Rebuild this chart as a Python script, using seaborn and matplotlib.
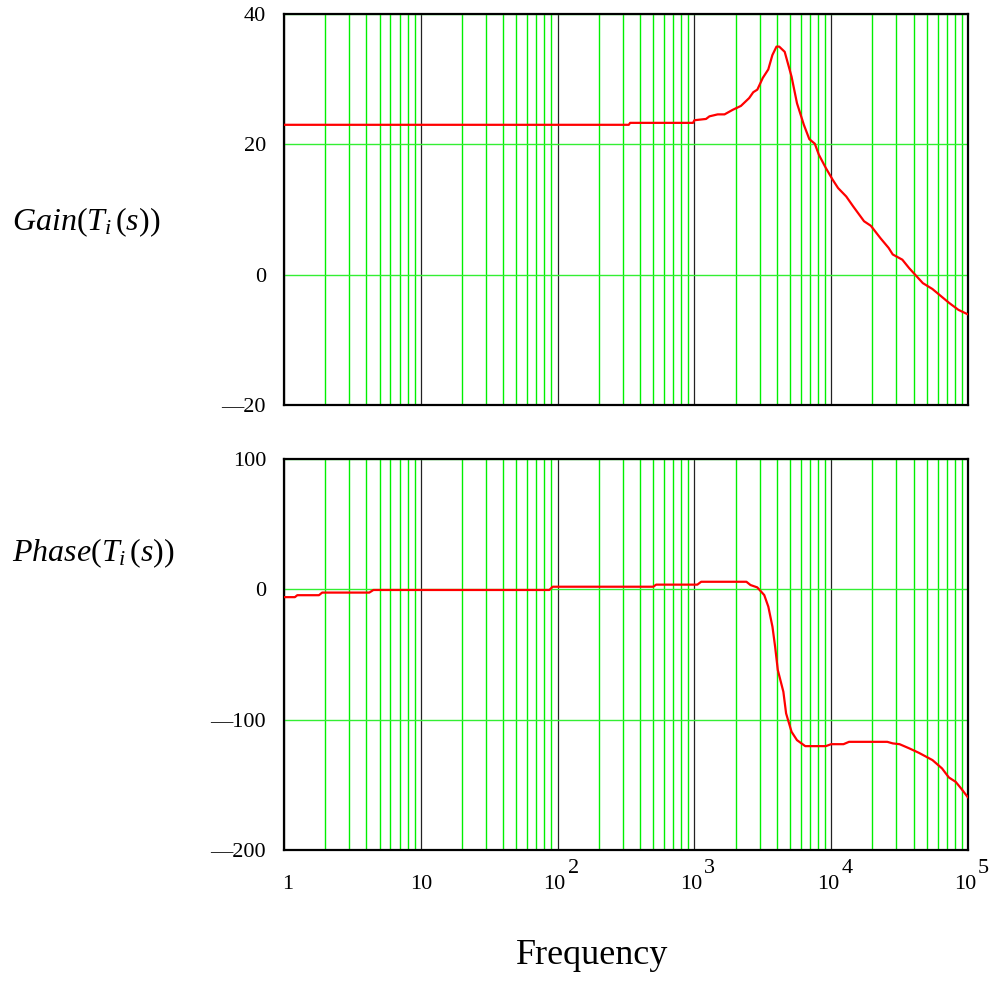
import numpy as np
import pandas as pd
import matplotlib
matplotlib.use("Agg")
import matplotlib.pyplot as plt
import matplotlib.transforms as mtrans
from matplotlib.ticker import LogLocator, NullFormatter, FixedLocator
import seaborn as sns

# Closed-loop response T_i(s): gain (dB) and phase (deg) versus frequency
gain_freq = [1, 331, 339, 977, 1000, 1216, 1288, 1479, 1660, 1905, 2188, 2512,
             2692, 2884, 3162, 3467, 3715, 3981, 4169, 4571, 5129, 5623, 6310,
             6918, 7586, 8128, 9120, 10230, 11220, 12880, 14450, 17380, 19500,
             22910, 26300, 28180, 33110, 37150, 46770, 54950, 72440, 85110, 100000]
gain_db = [23.0, 23.0, 23.3, 23.3, 23.7, 23.9, 24.3, 24.6, 24.6, 25.3, 25.9, 27.1,
           28.0, 28.4, 30.2, 31.5, 33.7, 35.0, 35.0, 34.2, 30.4, 26.3, 23.0,
           20.8, 20.1, 18.4, 16.4, 14.6, 13.3, 12.0, 10.5, 8.2, 7.5,
           5.6, 4.1, 3.1, 2.3, 1.0, -1.3, -2.2, -4.3, -5.4, -6.1]

phase_freq = [1, 1.2, 1.25, 1.8, 1.9, 4.2, 4.5, 87, 92, 500, 525, 1050, 1120,
              2400, 2570, 2880, 3240, 3470, 3720, 3890, 4070, 4470, 4680, 5130,
              5620, 6460, 9120, 10000, 12300, 13500, 25700, 28200, 31600, 37200,
              43700, 55000, 64600, 72400, 81300, 89100, 100000]
phase_deg = [-6.0, -6.0, -4.5, -4.5, -2.5, -2.5, -0.5, -0.5, 2.0, 2.0, 3.6, 3.6, 5.8,
             5.8, 3.3, 1.5, -4.4, -13.3, -28.7, -44.0, -61.9, -78.6, -95.2, -109.3,
             -115.7, -120.3, -120.3, -118.8, -118.8, -117.0, -117.0, -118.2, -118.8, -122.0,
             -125.4, -131.0, -137.4, -144.3, -147.7, -152.8, -159.7]

decades = [1, 10, 100, 1000, 10000, 100000]
decade_base = ["1", "10", "10", "10", "10", "10"]
decade_exp = ["", "", "2", "3", "4", "5"]

gain_ticks = [-20, 0, 20, 40]
phase_ticks = [-200, -100, 0, 100]

sns.set_theme(style="white")
plt.rcParams["font.family"] = ["Liberation Serif", "DejaVu Serif"]
plt.rcParams["mathtext.fontset"] = "custom"
plt.rcParams["mathtext.rm"] = "Liberation Serif"
plt.rcParams["mathtext.it"] = "Liberation Serif:italic"
plt.rcParams["text.color"] = "black"

fig = plt.figure(figsize=(10.03, 9.82), dpi=100)
ax_g = fig.add_axes([0.2832, 0.5876, 0.6819, 0.3981])
ax_p = fig.add_axes([0.2832, 0.1344, 0.6819, 0.3982])

df_g = pd.DataFrame({"f": gain_freq, "v": gain_db})
df_p = pd.DataFrame({"f": phase_freq, "v": phase_deg})

for ax, df, ticks in ((ax_g, df_g, gain_ticks), (ax_p, df_p, phase_ticks)):
    ax.set_xscale("log")
    ax.set_xlim(1, 1e5)
    ax.set_ylim(ticks[0], ticks[-1])
    # minor decade lines in green, decade lines in black
    ax.xaxis.set_minor_locator(LogLocator(base=10, subs=np.arange(2, 10), numticks=20))
    ax.xaxis.set_minor_formatter(NullFormatter())
    ax.xaxis.set_major_locator(FixedLocator(decades))
    ax.yaxis.set_major_locator(FixedLocator(ticks))
    ax.grid(True, which="minor", axis="x", color="#00f000", linewidth=1.0)
    ax.grid(True, which="major", axis="x", color="#222222", linewidth=0.9)
    ax.grid(True, which="major", axis="y", color="#33ee33", linewidth=1.0)
    ax.set_axisbelow(True)
    sns.lineplot(data=df, x="f", y="v", ax=ax, color="#ff0000", linewidth=1.6,
                 estimator=None, sort=False, zorder=3)
    ax.set_xlabel("")
    ax.set_ylabel("")
    for s in ax.spines.values():
        s.set_color("black")
        s.set_linewidth(1.6)
    ax.tick_params(axis="both", which="both", length=0, labelsize=16,
                   colors="black", labelcolor="black")
    ax.tick_params(axis="y", pad=13)
    ax.set_yticklabels([f"{t:d}".replace("-", "\u2014") for t in ticks])

ax_g.set_xticklabels([])
ax_p.set_xticklabels(decade_base)
ax_p.tick_params(axis="x", pad=18)

# nudge the decade labels: "1" sits just inside the axis, the powers of ten a little left
for lab, f in zip(ax_p.get_xticklabels(), decades):
    dx = {1: 4, 10: 0}.get(f, -3)
    lab.set_transform(lab.get_transform() +
                      mtrans.ScaledTranslation(dx / 100, 0, fig.dpi_scale_trans))

# raised decade exponents beside the "10" labels
for f, e in zip(decades, decade_exp):
    if not e:
        continue
    tr = mtrans.blended_transform_factory(ax_p.transData, ax_p.transAxes) + \
        mtrans.ScaledTranslation(10 / 100, -9 / 100, fig.dpi_scale_trans)
    ax_p.text(f, 0, e, transform=tr, fontsize=16, ha="left", va="top",
              color="black", clip_on=False)

fig.text(0.012, 0.774, r"$Gain(T_i\,(s))$", fontsize=23, va="center", ha="left")
fig.text(0.012, 0.437, r"$Phase(T_i\,(s))$", fontsize=23, va="center", ha="left")
fig.text(0.59, 0.027, "Frequency", fontsize=26, ha="center", va="center")

fig.savefig("out.png", dpi=100, facecolor="white")
